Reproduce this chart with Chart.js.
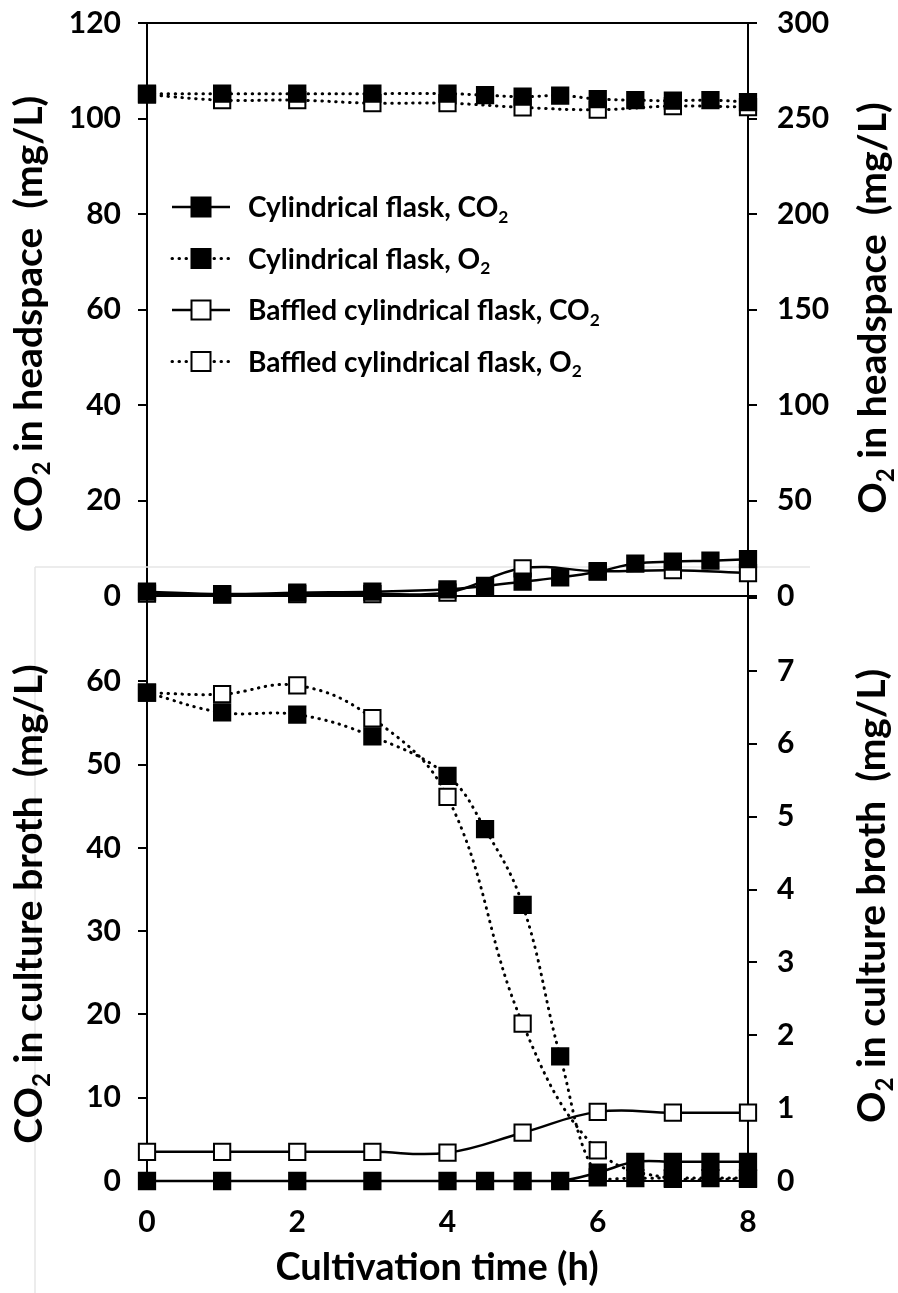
<!DOCTYPE html>
<html lang="en">
<head>
    <meta charset="UTF-8">
    <title>CO2 and O2 during cultivation</title>
    <script src="https://cdn.jsdelivr.net/npm/chart.js"></script>
    <style>
        body { margin: 0; background: #fff; }
        #wrap { position: relative; width: 898px; height: 1293px; overflow: hidden; }
        canvas { position: absolute; left: 0; }
        #headChart { top: -15px; }
        #brothChart { top: 560px; }
    </style>
</head>
<body>
    <div id="wrap">
        <canvas id="headChart" width="898" height="655"></canvas>
        <canvas id="brothChart" width="898" height="733"></canvas>
    </div>
    <script>
        // sampling times (h)
        const hoursCyl = [0, 1, 2, 3, 4, 4.5, 5, 5.5, 6, 6.5, 7, 7.5, 8]
        const hoursBaf = [0, 1, 2, 3, 4, 5, 6, 7, 8]

        // headspace (mg/L)
        const headCo2Cyl = [0.9, 0.4, 0.7, 0.9, 1.4, 2.1, 3.0, 3.9, 5.1, 6.8, 7.2, 7.4, 7.7]
        const headO2Cyl = [263, 263, 263, 263, 263, 262.2, 261.4, 262, 260.2, 259.6, 259.3, 259.6, 258.6]
        const headCo2Baf = [0.5, 0.3, 0.4, 0.4, 0.7, 5.8, 5.2, 5.4, 4.8]
        const headO2Baf = [262.5, 259.6, 259.6, 258, 258, 255.8, 254.6, 256.5, 256]

        // culture broth (mg/L)
        const brothCo2Cyl = [0, 0, 0, 0, 0, 0, 0, 0, 1.0, 2.3, 2.3, 2.3, 2.3]
        const brothO2Cyl = [6.7, 6.43, 6.4, 6.1, 5.56, 4.83, 3.79, 1.71, 0.05, 0.04, 0.04, 0.04, 0.04]
        const brothCo2Baf = [3.5, 3.5, 3.5, 3.5, 3.4, 5.8, 8.3, 8.2, 8.2]
        const brothO2Baf = [6.7, 6.68, 6.8, 6.35, 5.27, 2.16, 0.42, 0.03, 0.03]

        // "_2" = subscript 2
        const legendNames = ['Cylindrical flask, CO_2', 'Cylindrical flask, O_2',
            'Baffled cylindrical flask, CO_2', 'Baffled cylindrical flask, O_2']
        const headTitles = ['CO_2 in headspace  (mg/L)', 'O_2 in headspace  (mg/L)']
        const brothTitles = ['CO_2 in culture broth  (mg/L)', 'O_2 in culture broth  (mg/L)']
        const timeTitle = 'Cultivation time (h)'

        const FONT = 'Lato'
        const TICK_SIZE = 30
        const HEAD_TOP = -15   // page y of the top canvas
        const BROTH_TOP = 560  // page y of the bottom canvas

        function series(label, xs, ys, axis, filled, dotted) {
            return {
                label: label,
                data: xs.map((x, i) => ({ x: x, y: ys[i] })),
                yAxisID: axis,
                borderColor: '#000',
                borderWidth: dotted ? 3 : 2.5,
                borderDash: dotted ? [0.5, 6.5] : [],
                borderCapStyle: dotted ? 'round' : 'butt',
                tension: 0.4,
                fill: false,
                clip: false,
                pointStyle: 'rect',
                pointRadius: 11.5,
                pointBorderWidth: 2,
                pointBorderColor: '#000',
                pointBackgroundColor: filled ? '#000' : '#fff'
            }
        }

        function richParts(str) {
            return str.split(/(_\d)/).filter(s => s).map(s =>
                s[0] === '_' ? { t: s.slice(1), sub: true } : { t: s, sub: false })
        }

        // draws text centred (or left aligned) on x, vertically centred on y
        function drawRich(ctx, str, x, y, size, align, rotate) {
            const parts = richParts(str)
            let total = 0
            parts.forEach(p => {
                ctx.font = `bold ${p.sub ? size * 0.62 : size}px ${FONT}`
                p.w = ctx.measureText(p.t).width
                total += p.w
            })
            ctx.save()
            ctx.translate(x, y)
            if (rotate) ctx.rotate(rotate)
            ctx.fillStyle = '#000'
            ctx.textBaseline = 'alphabetic'
            ctx.textAlign = 'left'
            let cx = align === 'left' ? 0 : -total / 2
            parts.forEach(p => {
                ctx.font = `bold ${p.sub ? size * 0.62 : size}px ${FONT}`
                ctx.fillText(p.t, cx, size * 0.36 + (p.sub ? size * 0.2 : 0))
                cx += p.w
            })
            ctx.restore()
        }

        function yAxis(pos, max, step, pad, hideTop) {
            return {
                type: 'linear',
                position: pos,
                min: 0,
                max: max,
                ticks: {
                    stepSize: step,
                    color: '#000',
                    padding: pad,
                    font: { family: FONT, size: TICK_SIZE, weight: 'bold' },
                    callback: v => (hideTop && v === max) ? '' : v
                },
                grid: { display: true, drawOnChartArea: false, drawTicks: true, tickLength: 9, color: '#000', lineWidth: 2 },
                border: { display: true, color: '#000', width: 2 },
                afterFit: scale => { scale.width = pos === 'left' ? 147 : 150 }
            }
        }

        function xAxis(showLabels, height) {
            return {
                type: 'linear',
                min: 0,
                max: 8,
                ticks: {
                    display: showLabels,
                    stepSize: 2,
                    color: '#000',
                    padding: 23,
                    maxRotation: 0,
                    font: { family: FONT, size: TICK_SIZE, weight: 'bold' }
                },
                grid: { display: false, drawTicks: false },
                border: { display: true, color: '#000', width: 2 },
                afterFit: scale => { scale.height = height }
            }
        }

        function legendSymbol(ctx, x, y, filled, dotted) {
            ctx.save()
            ctx.strokeStyle = '#000'
            ctx.lineWidth = dotted ? 3 : 2.5
            ctx.lineCap = dotted ? 'round' : 'butt'
            ctx.setLineDash(dotted ? [0.5, 6.5] : [])
            ctx.beginPath()
            ctx.moveTo(x - 29, y)
            ctx.lineTo(x + 29, y)
            ctx.stroke()
            ctx.setLineDash([])
            ctx.lineWidth = 2
            ctx.fillStyle = filled ? '#000' : '#fff'
            ctx.fillRect(x - 9.5, y - 9.5, 19, 19)
            ctx.strokeRect(x - 9.5, y - 9.5, 19, 19)
            ctx.restore()
        }

        const headDecor = {
            id: 'headDecor',
            beforeDatasetsDraw(chart) {
                const ctx = chart.ctx
                const oy = -HEAD_TOP
                ctx.save()
                // faint edge of the pasted lower panel
                ctx.strokeStyle = '#e6e6e6'
                ctx.lineWidth = 1.5
                ctx.beginPath()
                ctx.moveTo(35, 567 + oy)
                ctx.lineTo(810, 567 + oy)
                ctx.moveTo(35, 567 + oy)
                ctx.lineTo(35, 655)
                ctx.stroke()
                // top frame line
                const a = chart.chartArea
                ctx.strokeStyle = '#000'
                ctx.lineWidth = 2
                ctx.beginPath()
                ctx.moveTo(a.left, a.top)
                ctx.lineTo(a.right, a.top)
                ctx.stroke()
                ctx.restore()
            },
            afterDraw(chart) {
                const ctx = chart.ctx
                const oy = -HEAD_TOP
                drawRich(ctx, headTitles[0], 28, 314 + oy, 39, 'center', -Math.PI / 2)
                drawRich(ctx, headTitles[1], 872, 308 + oy, 39, 'center', -Math.PI / 2)
                legendNames.forEach((name, i) => {
                    const y = 207 + i * 51.5 + oy
                    legendSymbol(ctx, 201, y, i < 2, i % 2 === 1)
                    drawRich(ctx, name, 248, y, 28, 'left')
                })
            }
        }

        const brothDecor = {
            id: 'brothDecor',
            beforeDatasetsDraw(chart) {
                const ctx = chart.ctx
                ctx.save()
                ctx.strokeStyle = '#e6e6e6'
                ctx.lineWidth = 1.5
                ctx.beginPath()
                ctx.moveTo(35, 80)
                ctx.lineTo(35, 733)
                ctx.stroke()
                ctx.restore()
            },
            afterDraw(chart) {
                const ctx = chart.ctx
                drawRich(ctx, brothTitles[0], 28, 904 - BROTH_TOP, 39, 'center', -Math.PI / 2)
                drawRich(ctx, brothTitles[1], 871, 896 - BROTH_TOP, 39, 'center', -Math.PI / 2)
                drawRich(ctx, timeTitle, 437, 1266 - BROTH_TOP, 38, 'center')
            }
        }

        const common = {
            responsive: false,
            animation: false,
            events: [],
            plugins: { legend: { display: false }, tooltip: { enabled: false } }
        }

        const headChart = new Chart(document.getElementById('headChart'), {
            type: 'line',
            data: {
                datasets: [
                    series(legendNames[0], hoursCyl, headCo2Cyl, 'yL', true, false),
                    series(legendNames[1], hoursCyl, headO2Cyl, 'yR', true, true),
                    series(legendNames[2], hoursBaf, headCo2Baf, 'yL', false, false),
                    series(legendNames[3], hoursBaf, headO2Baf, 'yR', false, true)
                ]
            },
            options: Object.assign({}, common, {
                layout: { padding: { top: 5, left: 0, right: 0, bottom: 0 } },
                scales: {
                    x: xAxis(false, 44),
                    yL: yAxis('left', 120, 20, 17, false),
                    yR: yAxis('right', 300, 50, 20, false)
                }
            }),
            plugins: [headDecor]
        })

        const brothChart = new Chart(document.getElementById('brothChart'), {
            type: 'line',
            data: {
                datasets: [
                    series(legendNames[0], hoursCyl, brothCo2Cyl, 'yL', true, false),
                    series(legendNames[1], hoursCyl, brothO2Cyl, 'yR', true, true),
                    series(legendNames[2], hoursBaf, brothCo2Baf, 'yL', false, false),
                    series(legendNames[3], hoursBaf, brothO2Baf, 'yR', false, true)
                ]
            },
            options: Object.assign({}, common, {
                layout: { padding: { top: 36, left: 0, right: 0, bottom: 0 } },
                scales: {
                    x: xAxis(true, 112),
                    yL: yAxis('left', 70, 10, 17, true),
                    yR: yAxis('right', 8, 1, 20, true)
                }
            }),
            plugins: [brothDecor]
        })
    </script>
</body>
</html>
